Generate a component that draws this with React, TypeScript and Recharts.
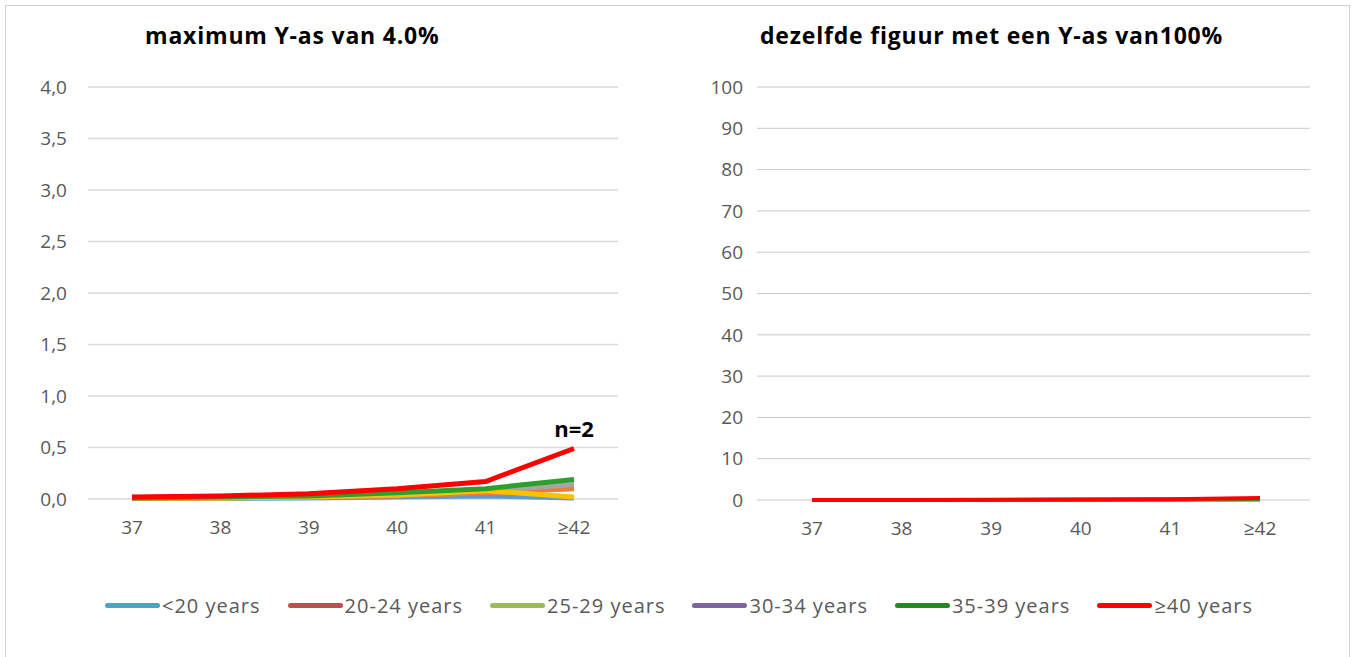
import { LineChart, Line, XAxis, YAxis, CartesianGrid, LabelList } from "recharts";

// gestational week categories
const weeks = ["37", "38", "39", "40", "41", "≥42"];

// percentages per maternal age group
const under20 = [0.005, 0.005, 0.01, 0.02, 0.03, 0.01];
const age20to24 = [0.01, 0.01, 0.02, 0.03, 0.06, 0.1];
const age25to29 = [0.01, 0.01, 0.02, 0.04, 0.08, 0.14];
const age30to34 = [0.01, 0.01, 0.02, 0.04, 0.08, 0.02];
const age35to39 = [0.01, 0.02, 0.03, 0.06, 0.1, 0.19];
const age40plus = [0.02, 0.03, 0.05, 0.1, 0.17, 0.49];

const leftTicks = [0, 0.5, 1, 1.5, 2, 2.5, 3, 3.5, 4];
const rightTicks = [0, 10, 20, 30, 40, 50, 60, 70, 80, 90, 100];

const series = [
  { key: "u20", name: "<20 years", values: under20, line: "#5B9BD5", legend: "#4BA3C3" },
  { key: "a20", name: "20-24 years", values: age20to24, line: "#ED7D31", legend: "#C0504D" },
  { key: "a25", name: "25-29 years", values: age25to29, line: "#A5A5A5", legend: "#9BBB59" },
  { key: "a30", name: "30-34 years", values: age30to34, line: "#FFC000", legend: "#8064A2" },
  { key: "a35", name: "35-39 years", values: age35to39, line: "#2CA02C", legend: "#258A25" },
  { key: "a40", name: "≥40 years", values: age40plus, line: "#FF0000", legend: "#FF0000" },
];

const chartData = weeks.map((week, i) => {
  const row: Record<string, string | number> = { week };
  series.forEach((s) => {
    row[s.key] = s.values[i];
  });
  return row;
});

const FONT = "'Open Sans', Lato, sans-serif";
const tickStyle = { fill: "#595959", fontSize: 19, fontFamily: FONT };

const NLabel = (props: any) => {
  const { x, y, index } = props;
  if (index !== weeks.length - 1) return null;
  return (
    <text
      x={x}
      y={y - 12}
      textAnchor="middle"
      fill="#000"
      fontSize={22}
      fontWeight="bold"
      fontFamily={FONT}
    >
      n=2
    </text>
  );
};

const titleStyle = {
  position: "absolute" as const,
  top: 19,
  fontSize: 23,
  fontWeight: "bold" as const,
  color: "#000",
  whiteSpace: "nowrap" as const,
  letterSpacing: 0.8,
};

export default function App() {
  return (
    <div
      style={{
        position: "absolute",
        left: 0,
        top: 0,
        width: 1355,
        height: 657,
        background: "#fff",
        overflow: "hidden",
        fontFamily: FONT,
      }}
    >
      <div
        style={{
          position: "absolute",
          left: 5,
          top: 5,
          width: 1343,
          height: 670,
          border: "1.5px solid #D0D0D0",
        }}
      />
      <div style={{ ...titleStyle, left: 145 }}>maximum Y-as van 4.0%</div>
      <div style={{ ...titleStyle, left: 760 }}>dezelfde figuur met een Y-as van100%</div>

      <div style={{ position: "absolute", left: 0, top: 0 }}>
        <LineChart
          width={640}
          height={560}
          data={chartData}
          margin={{ top: 87, right: 22, bottom: 31, left: 0 }}
        >
          <CartesianGrid vertical={false} stroke="#D9D9D9" strokeWidth={1.5} />
          <XAxis
            dataKey="week"
            height={30}
            padding={{ left: 44, right: 44 }}
            axisLine={false}
            tickLine={false}
            tickMargin={16}
            tick={tickStyle}
          />
          <YAxis
            width={88}
            domain={[0, 4]}
            ticks={leftTicks}
            interval={0}
            axisLine={false}
            tickLine={false}
            tickMargin={15}
            tick={tickStyle}
            tickFormatter={(v: number) => v.toFixed(1).replace(".", ",")}
          />
          {series.map((s) => (
            <Line
              key={s.key}
              dataKey={s.key}
              name={s.name}
              stroke={s.line}
              strokeWidth={5}
              dot={false}
              isAnimationActive={false}
            >
              {s.key === "a40" && <LabelList dataKey={s.key} content={NLabel} />}
            </Line>
          ))}
        </LineChart>
      </div>

      <div style={{ position: "absolute", left: 670, top: 0 }}>
        <LineChart
          width={662}
          height={560}
          data={chartData}
          margin={{ top: 87, right: 22, bottom: 30, left: 0 }}
        >
          <CartesianGrid vertical={false} stroke="#C8C8C8" strokeWidth={1} />
          <XAxis
            dataKey="week"
            height={30}
            padding={{ left: 55, right: 50 }}
            axisLine={false}
            tickLine={false}
            tickMargin={16}
            tick={tickStyle}
          />
          <YAxis
            width={87}
            domain={[0, 100]}
            ticks={rightTicks}
            interval={0}
            axisLine={false}
            tickLine={false}
            tickMargin={8}
            tick={tickStyle}
          />
          {series.map((s) => (
            <Line
              key={s.key}
              dataKey={s.key}
              name={s.name}
              stroke={s.line}
              strokeWidth={4}
              dot={false}
              isAnimationActive={false}
            />
          ))}
        </LineChart>
      </div>

      <div
        style={{
          position: "absolute",
          left: 105,
          top: 592,
          display: "flex",
          alignItems: "center",
          gap: 27,
          fontSize: 20,
          letterSpacing: 1,
          color: "#595959",
          whiteSpace: "nowrap",
        }}
      >
        {series.map((s) => (
          <div key={s.key} style={{ display: "flex", alignItems: "center" }}>
            <span
              style={{
                display: "inline-block",
                width: 55,
                height: 5,
                borderRadius: 3,
                background: s.legend,
                marginRight: 2,
              }}
            />
            <span>{s.name}</span>
          </div>
        ))}
      </div>
    </div>
  );
}
